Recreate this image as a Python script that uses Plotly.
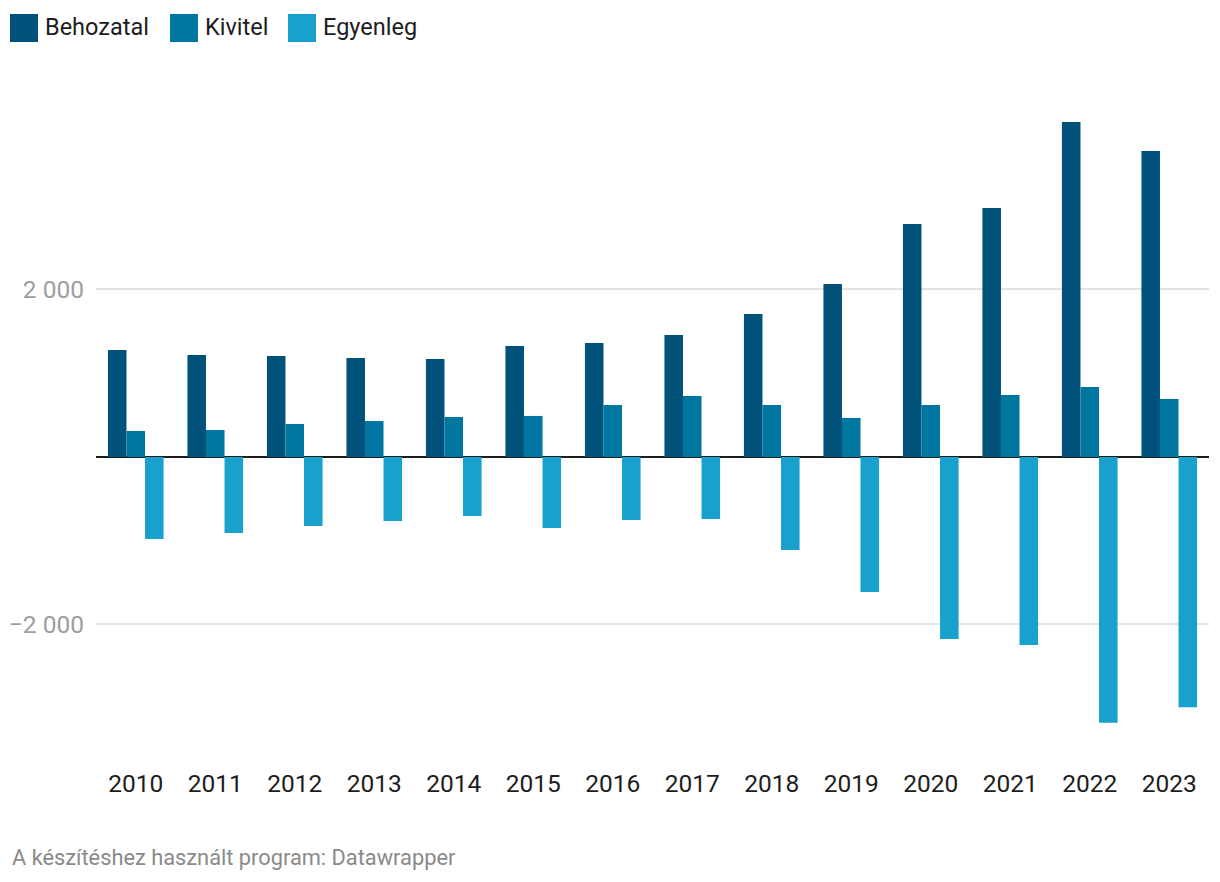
import plotly.graph_objects as go

years = ["2010", "2011", "2012", "2013", "2014", "2015", "2016",
         "2017", "2018", "2019", "2020", "2021", "2022", "2023"]
behozatal = [1278, 1218, 1206, 1182, 1170, 1325, 1361, 1457, 1707, 2066, 2782, 2973, 4000, 3652]
kivitel = [310, 322, 394, 430, 478, 490, 621, 728, 621, 466, 621, 740, 836, 693]
egyenleg = [-979, -907, -824, -764, -704, -848, -752, -740, -1110, -1612, -2173, -2245, -3172, -2988]
series_names = ["Behozatal", "Kivitel", "Egyenleg"]
colors = ["#01527b", "#0077a1", "#18a1cd"]
ytick_vals = [-2000, 2000]
ytick_text = ["\u22122 000", "2 000"]
footer = "A készítéshez használt program: Datawrapper"

OFF = 8  # page body margin
W, H = 1220, 882
# plot area in page pixels: x 96..1208, y 110..760
ML = 96 - OFF
MR = W - (1209 - OFF)
MT = 110 - OFF
MB = H - (760 - OFF)
PW, PH = W - ML - MR, H - MT - MB


def px(x):
    return (x - OFF - ML) / PW


def py(y):
    return (H - MB - (y - OFF)) / PH


fig = go.Figure()
for name, vals, c in zip(series_names, [behozatal, kivitel, egyenleg], colors):
    fig.add_trace(go.Bar(x=years, y=vals, name=name, marker=dict(color=c, line=dict(width=0)),
                         showlegend=False))

# manual legend (large square swatches)
leg_x = [10, 170, 288]
for name, c, x0 in zip(series_names, colors, leg_x):
    fig.add_shape(type="rect", xref="paper", yref="paper",
                  x0=px(x0), x1=px(x0 + 28), y0=py(42), y1=py(14),
                  fillcolor=c, line=dict(width=0))
    fig.add_annotation(text=name, xref="paper", yref="paper", x=px(x0 + 33), y=py(27),
                       xanchor="left", yanchor="middle", showarrow=False,
                       font=dict(size=23.5, color="#1d1d1d", family="Roboto"))

fig.add_annotation(text=footer, xref="paper", yref="paper", x=px(10), y=py(857),
                   xanchor="left", yanchor="middle", showarrow=False,
                   font=dict(size=21.8, color="#8a8a8a", family="Roboto"))

fig.update_layout(
    width=W, height=H,
    margin=dict(l=ML, r=MR, t=MT, b=MB, pad=0, autoexpand=False),
    plot_bgcolor="white", paper_bgcolor="white",
    barmode="group", bargap=0.3, bargroupgap=0,
    font=dict(family="Roboto", color="#1d1d1d"),
    xaxis=dict(showgrid=False, showline=False, ticks="", zeroline=False,
               automargin=False, ticklabelstandoff=6,
               tickfont=dict(size=24.5, color="#1d1d1d")),
    yaxis=dict(range=[-3618, 4143], tickvals=ytick_vals, ticktext=ytick_text,
               showgrid=True, gridcolor="#e3e3e3", gridwidth=2,
               zeroline=True, zerolinecolor="#1d1d1d", zerolinewidth=2,
               showline=False, ticks="", ticklabelstandoff=11, automargin=False,
               tickfont=dict(size=24.5, color="#9e9e9e")),
)

fig.write_html("out.html")
